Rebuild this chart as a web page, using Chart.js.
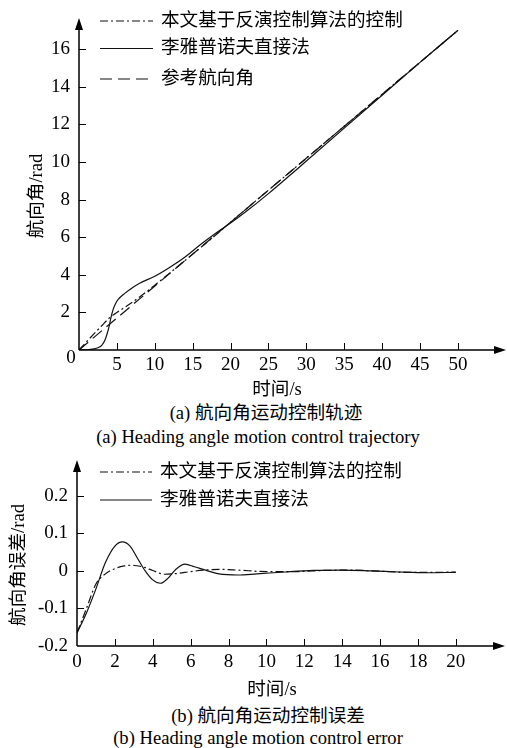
<!DOCTYPE html>
<html>
<head>
<meta charset="utf-8">
<script src="https://cdn.jsdelivr.net/npm/chart.js@4.4.0/dist/chart.umd.min.js"></script>
<style>
html, body { margin: 0; padding: 0; background: #fff; }
body { width: 507px; height: 748px; position: relative; overflow: hidden;
       font-family: 'Liberation Serif', 'Noto Sans CJK SC', serif; color: #000; }
canvas { position: absolute; left: 0; }
#chartA { top: 0; width: 507px; height: 400px; }
#chartB { top: 450px; width: 507px; height: 250px; }
.cap { position: absolute; font-size: 18.6px; white-space: nowrap; line-height: 1;
       transform: translate(-50%, -50%); }
</style>
</head>
<body>
<canvas id="chartA" width="507" height="400"></canvas>
<canvas id="chartB" width="507" height="250"></canvas>
<div class="cap" style="left:266px;top:413px">(a) 航向角运动控制轨迹</div>
<div class="cap" style="left:258px;top:437px">(a) Heading angle motion control trajectory</div>
<div class="cap" style="left:268px;top:716px">(b) 航向角运动控制误差</div>
<div class="cap" style="left:258px;top:738px">(b) Heading angle motion control error</div>
<script>
// (a) heading angle trajectory
const seriesNamesA = ['本文基于反演控制算法的控制', '李雅普诺夫直接法', '参考航向角'];
const timeBackA = [0, 1, 2, 3, 4, 5, 6, 8, 10, 12, 15, 18, 20, 25, 30, 35, 40, 45, 50];
const headingBack = [0, 0.44, 0.87, 1.29, 1.7, 2.0, 2.26, 2.82, 3.45, 4.1, 5.1, 6.1, 6.8, 8.5, 10.2, 11.9, 13.6, 15.3, 17.0];
const timeLyapA = [0, 1, 2, 2.5, 3, 3.4, 3.7, 4.0, 4.2, 4.5, 4.8, 5.2, 6, 7, 8, 10, 12, 14, 16, 18, 20, 22, 25, 28, 30, 35, 40, 45, 50];
const headingLyap = [0, 0.01, 0.06, 0.12, 0.25, 0.5, 0.85, 1.3, 1.7, 2.15, 2.45, 2.7, 3.0, 3.3, 3.55, 3.92, 4.4, 4.95, 5.6, 6.2, 6.75, 7.35, 8.32, 9.35, 10.05, 11.8, 13.55, 15.3, 17.0];
const timeRefA = [0, 50];
const headingRef = [0, 17];

// (b) heading angle error
const seriesNamesB = ['本文基于反演控制算法的控制', '李雅普诺夫直接法'];
const timeBackB = [0, 0.5, 1, 1.5, 2, 2.5, 2.9, 3.5, 4, 4.6, 5.3, 6, 7, 7.5, 8.5, 10, 11.5, 13, 14.5, 16, 17.5, 19, 20];
const errorBack = [-0.165, -0.1, -0.035, -0.008, 0.006, 0.013, 0.015, 0.01, 0.001, -0.009, -0.007, -0.002, 0.003, 0.004, 0.002, -0.002, -0.002, 0.001, 0.002, -0.001, -0.004, -0.004, -0.003];
const timeLyapB = [0, 0.5, 1, 1.5, 2, 2.4, 2.8, 3.2, 3.6, 4, 4.4, 4.8, 5.2, 5.7, 6.2, 6.9, 7.5, 8.5, 9.5, 11, 12.5, 14, 15.5, 17, 18.5, 20];
const errorLyap = [-0.165, -0.112, -0.048, 0.022, 0.066, 0.077, 0.066, 0.033, 0.0, -0.024, -0.033, -0.02, 0.003, 0.018, 0.011, 0.0, -0.008, -0.011, -0.008, -0.003, 0.001, 0.002, 0.0, -0.003, -0.005, -0.004];

const SERIF = "'Liberation Serif', 'Noto Sans CJK SC', serif";
const TEXT_FONT = '18.6px ' + SERIF;
Chart.defaults.font.family = SERIF;
Chart.defaults.font.size = 19;
Chart.defaults.color = '#000';

const dashDot = [8, 3, 2, 3];
const longDash = [12, 6];

function pts(xs, ys) {
  return xs.map((x, i) => ({ x: x, y: ys[i] }));
}

function line(label, xs, ys, dash) {
  return {
    label: label,
    data: pts(xs, ys),
    borderColor: '#111',
    borderWidth: 1.2,
    borderDash: dash,
    pointRadius: 0,
    fill: false,
    cubicInterpolationMode: 'monotone'
  };
}

// axes with inner tick marks and arrow heads
const axesPlugin = {
  id: 'axes',
  afterDatasetsDraw(chart, args, o) {
    const { ctx, chartArea: a, scales: { x, y } } = chart;
    ctx.save();
    ctx.strokeStyle = '#000';
    ctx.fillStyle = '#000';
    ctx.setLineDash([]);
    ctx.lineWidth = 1.5;
    ctx.beginPath();
    ctx.moveTo(a.left, a.bottom); ctx.lineTo(a.right - 8, a.bottom);
    ctx.moveTo(a.left, a.bottom); ctx.lineTo(a.left, a.top + 8);
    ctx.stroke();
    ctx.beginPath();
    ctx.moveTo(a.right, a.bottom); ctx.lineTo(a.right - 12, a.bottom - 4); ctx.lineTo(a.right - 12, a.bottom + 4);
    ctx.closePath(); ctx.fill();
    ctx.beginPath();
    ctx.moveTo(a.left, a.top); ctx.lineTo(a.left - 4, a.top + 12); ctx.lineTo(a.left + 4, a.top + 12);
    ctx.closePath(); ctx.fill();
    ctx.lineWidth = 1;
    ctx.beginPath();
    x.ticks.forEach(t => {
      if (t.value > x.min && t.label !== '') {
        const px = Math.round(x.getPixelForValue(t.value)) + 0.5;
        ctx.moveTo(px, a.bottom); ctx.lineTo(px, a.bottom - 7);
      }
    });
    y.ticks.forEach(t => {
      if (t.value > y.min && t.label !== '') {
        const py = Math.round(y.getPixelForValue(t.value)) + 0.5;
        ctx.moveTo(a.left, py); ctx.lineTo(a.left + 7, py);
      }
    });
    ctx.stroke();
    if (o.origin) {
      ctx.font = '19px ' + SERIF;
      ctx.textAlign = 'center';
      ctx.textBaseline = 'middle';
      ctx.fillText(o.origin, x.getPixelForValue(0) - 8, y.getPixelForValue(0) + 8);
    }
    ctx.restore();
  }
};

// legend drawn inside the plot, line sample + text
const innerLegend = {
  id: 'innerLegend',
  afterDraw(chart, args, o) {
    const ctx = chart.ctx;
    ctx.save();
    ctx.strokeStyle = '#111';
    ctx.fillStyle = '#000';
    ctx.lineWidth = 1.2;
    ctx.font = TEXT_FONT;
    ctx.textAlign = 'left';
    ctx.textBaseline = 'middle';
    chart.data.datasets.forEach((ds, i) => {
      const yy = o.rows[i];
      ctx.setLineDash(ds.borderDash || []);
      ctx.beginPath();
      ctx.moveTo(o.x0, yy); ctx.lineTo(o.x1, yy);
      ctx.stroke();
      ctx.fillText(ds.label, o.textX, yy);
    });
    ctx.setLineDash([]);
    // axis titles
    ctx.textAlign = 'center';
    ctx.fillText(o.xTitle, o.xTitleAt[0], o.xTitleAt[1]);
    ctx.translate(o.yTitleAt[0], o.yTitleAt[1]);
    ctx.rotate(-Math.PI / 2);
    ctx.fillText(o.yTitle, 0, 0);
    ctx.restore();
  }
};

new Chart(document.getElementById('chartA'), {
  type: 'line',
  data: {
    datasets: [
      line(seriesNamesA[0], timeBackA, headingBack, dashDot),
      line(seriesNamesA[1], timeLyapA, headingLyap, []),
      line(seriesNamesA[2], timeRefA, headingRef, longDash)
    ]
  },
  options: {
    responsive: false,
    animation: false,
    layout: { padding: { top: 18, right: 1, left: 0, bottom: 0 } },
    plugins: {
      legend: { display: false },
      tooltip: { enabled: false },
      axes: { origin: '0' },
      innerLegend: {
        rows: [21, 48.5, 79], x0: 100, x1: 153, textX: 161,
        xTitle: '时间/s', xTitleAt: [277, 390],
        yTitle: '航向角/rad', yTitleAt: [37, 196]
      }
    },
    scales: {
      x: {
        type: 'linear', min: 0, max: 56.35,
        grid: { display: false, drawTicks: false }, border: { display: false },
        ticks: { stepSize: 5, includeBounds: false, padding: 4, maxRotation: 0, autoSkip: false,
                 callback: v => (v === 0 || v > 50) ? '' : v },
        afterFit: s => { s.height = 50; s.paddingLeft = 0; s.paddingRight = 0; }
      },
      y: {
        min: 0, max: 17.66,
        grid: { display: false, drawTicks: false }, border: { display: false },
        ticks: { stepSize: 2, includeBounds: false, padding: 9,
                 callback: v => (v === 0 || v > 16) ? '' : v },
        afterFit: s => { s.width = 79; s.paddingTop = 0; s.paddingBottom = 0; }
      }
    }
  },
  plugins: [axesPlugin, innerLegend]
});

new Chart(document.getElementById('chartB'), {
  type: 'line',
  data: {
    datasets: [
      line(seriesNamesB[0], timeBackB, errorBack, dashDot),
      line(seriesNamesB[1], timeLyapB, errorLyap, [])
    ]
  },
  options: {
    responsive: false,
    animation: false,
    layout: { padding: { top: 10, right: 2, left: 0, bottom: 0 } },
    plugins: {
      legend: { display: false },
      tooltip: { enabled: false },
      axes: {},
      innerLegend: {
        rows: [22, 50], x0: 100, x1: 152, textX: 160,
        xTitle: '时间/s', xTitleAt: [272, 240],
        yTitle: '航向角误差/rad', yTitleAt: [19, 115]
      }
    },
    scales: {
      x: {
        type: 'linear', min: 0, max: 22.6,
        grid: { display: false, drawTicks: false }, border: { display: false },
        ticks: { stepSize: 2, includeBounds: false, padding: 5, maxRotation: 0, autoSkip: false,
                 callback: v => v > 20 ? '' : v },
        afterFit: s => { s.height = 54; s.paddingLeft = 0; s.paddingRight = 0; }
      },
      y: {
        min: -0.2, max: 0.295,
        grid: { display: false, drawTicks: false }, border: { display: false },
        ticks: { stepSize: 0.1, includeBounds: false, padding: 9,
                 callback: v => v > 0.21 ? '' : String(Math.round(v * 10) / 10) },
        afterFit: s => { s.width = 77; s.paddingTop = 0; s.paddingBottom = 0; }
      }
    }
  },
  plugins: [axesPlugin, innerLegend]
});
</script>
</body>
</html>
